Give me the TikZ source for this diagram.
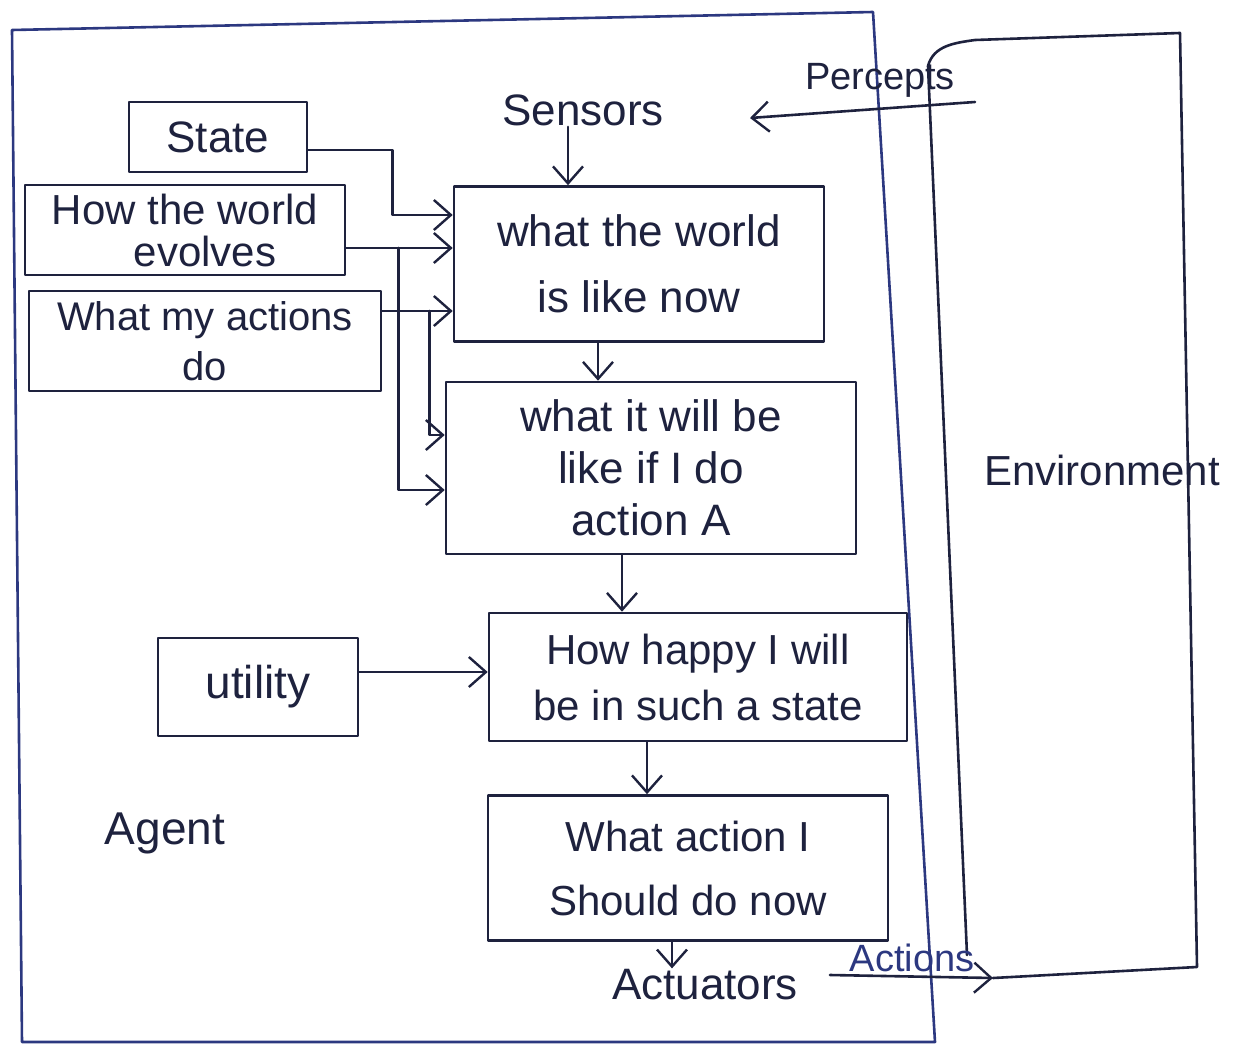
\documentclass[tikz,border=0pt]{standalone}
\usepackage{fontspec}
\setmainfont{Liberation Sans}
\usetikzlibrary{arrows.meta}
\definecolor{ink}{RGB}{30,34,62}
\definecolor{blueink}{RGB}{44,56,128}
\begin{document}
\begin{tikzpicture}[x=1pt,y=-1pt,
  color=ink, line width=2.6pt, line cap=round, line join=round,
  box/.style={draw, rectangle, inner sep=0pt, align=center},
  lbl/.style={inner sep=0pt, align=center},
  arr/.style={-{Straight Barb[length=17pt,width=30pt,line width=2.4pt]}},
  txt/.style 2 args={font=\fontsize{#1}{#2}\selectfont},
]
\useasboundingbox (0,0) rectangle (1247,1046);

% agent outline
\draw[blueink] (12,30) -- (873,12) -- (935,1042) -- (22,1042) -- cycle;

% environment outline, open where the actions come in
\coordinate (envin) at (993,978);
\draw (envin) -- (1197,967) -- (1180,33) -- (975,40)
      to[out=188,in=75] (928,66) -- (967,955);

% sensing
\node[lbl, txt={44}{60}] (sensors) at (583,110) {Sensors};
\node[lbl, txt={38}{50}] (percepts) at (880,80) {Percepts};
\coordinate (pin) at (975,102);
\draw[arr] (pin) -- ([xshift=85pt,yshift=-8pt]sensors.east);

% internal state and models
\node[box, minimum width=178, minimum height=70, txt={44}{60}] (state) at (218,137) {State};
\node[box, minimum width=320, minimum height=90, txt={42}{42}] (evolves) at (185,230)
  {How the world\\\hspace*{40pt}evolves};
\node[box, minimum width=352, minimum height=100, txt={40}{50}] (mydo) at (205,341)
  {What my actions\\do};

% reasoning chain
\node[box, minimum width=370, minimum height=155, txt={44}{66}] (now) at (639,264)
  {what the world\\is like now};
\node[box, minimum width=410, minimum height=172, txt={44}{52}] (willbe) at (651,468)
  {what it will be\\like if I do\\action A};
\node[box, minimum width=200, minimum height=98, txt={46}{60}] (utility) at (258,687) {utility};
\node[box, minimum width=418, minimum height=128, txt={42}{56}] (happy) at (698,677)
  {How happy I will\\be in such a state};
\node[box, minimum width=400, minimum height=145, txt={42}{64}] (act) at (688,868)
  {What action I\\Should do now};

% acting
\node[lbl, txt={44}{60}] (actuators) at (705,985) {Actuators};
\node[lbl, txt={38}{50}, blueink] (actions) at (912,958) {Actions};
\coordinate (actout) at (830,975);
\draw[arr] (actout) -- (envin);

\node[lbl, txt={46}{60}] (agent) at (165,833) {Agent};
\node[lbl, txt={42}{56}] (env) at (1102,470) {Environment};

% vertical flow
\draw[arr] ([xshift=-15pt]sensors.south) -- ([xshift=-15pt]sensors.south |- now.north);
\draw[arr] ([xshift=-41pt]now.south) -- ([xshift=-41pt]now.south |- willbe.north);
\draw[arr] ([xshift=-29pt]willbe.south) -- ([xshift=-29pt]willbe.south |- happy.north);
\draw[arr] ([xshift=-51pt]happy.south) -- ([xshift=-51pt]happy.south |- act.north);
\draw[arr] ([xshift=-16pt]act.south) -- ([xshift=-16pt]act.south |- actuators.north);

% inputs on the left
\draw[arr] ([yshift=-13pt]state.east) -- ++(84,0) |- ([yshift=49pt]now.west);
\draw[arr] ([yshift=-18pt]evolves.east) -- ([yshift=16pt]now.west);
\draw[arr] ([yshift=-18pt,xshift=52pt]evolves.east) |- ([yshift=-22pt]willbe.west);
\draw[arr] ([yshift=30pt]mydo.east) -- ([yshift=-47pt]now.west);
\draw[arr] ([yshift=30pt,xshift=47pt]mydo.east) |- ([yshift=33pt]willbe.west);
\draw[arr] ([yshift=15pt]utility.east) -- ([yshift=5pt]happy.west);
\end{tikzpicture}
\end{document}
